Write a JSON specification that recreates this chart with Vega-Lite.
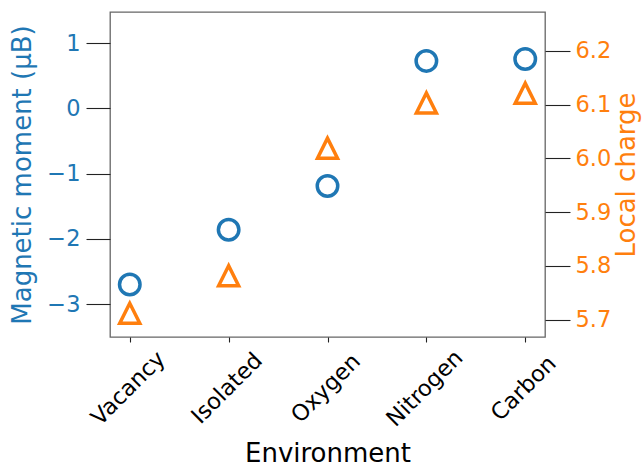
{
  "$schema": "https://vega.github.io/schema/vega-lite/v6.json",
  "width": 435,
  "height": 325,
  "autosize": {"type": "none"},
  "padding": {"left": 110, "top": 12, "right": 97, "bottom": 127},
  "background": "white",
  "config": {
    "font": "DejaVu Sans",
    "view": {"stroke": "#666666", "strokeWidth": 1.3},
    "axis": {"domain": false, "grid": false, "tickColor": "#222222", "tickWidth": 1.1, "labelFont": "DejaVu Sans", "titleFont": "DejaVu Sans", "labelFontSize": 22.5, "titleFontSize": 26, "titleFontWeight": "normal"}
  },
  "data": {
    "values": [
      {"env": "Vacancy", "mm": -2.70, "charge": 5.712},
      {"env": "Isolated", "mm": -1.86, "charge": 5.782},
      {"env": "Oxygen", "mm": -1.19, "charge": 6.019},
      {"env": "Nitrogen", "mm": 0.73, "charge": 6.103},
      {"env": "Carbon", "mm": 0.76, "charge": 6.121}
    ]
  },
  "encoding": {
    "x": {
      "field": "env",
      "type": "nominal",
      "sort": null,
      "scale": {"type": "point", "padding": 0.2},
      "axis": {
        "title": "Environment",
        "labelAngle": -45,
        "labelAlign": "center",
        "labelBaseline": "middle",
        "labelPadding": 46,
        "labelOffset": -2,
        "tickSize": 5,
        "labelColor": "#000000",
        "titleColor": "#000000",
        "titleBaseline": "alphabetic",
        "titleY": 124,
        "titleX": 217.5
      }
    }
  },
  "layer": [
    {
      "mark": {"type": "point", "shape": "circle", "filled": false, "size": 420, "strokeWidth": 3.5, "color": "#1f77b4", "opacity": 1},
      "encoding": {
        "y": {
          "field": "mm",
          "type": "quantitative",
          "scale": {"domain": [-3.506, 1.48], "nice": false, "zero": false},
          "axis": {
            "orient": "left",
            "title": "Magnetic moment (μB)",
            "values": [-3, -2, -1, 0, 1],
            "format": "d",
            "tickSize": 24,
            "labelPadding": 6,
            "labelColor": "#1f77b4",
            "titleColor": "#1f77b4",
            "titleAngle": -90,
            "titleBaseline": "alphabetic",
            "titleX": -80,
            "titleY": 162.5
          }
        }
      }
    },
    {
      "mark": {"type": "point", "shape": "M0,-1L-1,1L1,1Z", "filled": false, "size": 400, "strokeWidth": 3.5, "strokeJoin": "miter", "color": "#ff7f0e", "opacity": 1},
      "encoding": {
        "y": {
          "field": "charge",
          "type": "quantitative",
          "scale": {"domain": [5.668, 6.272], "nice": false, "zero": false},
          "axis": {
            "orient": "right",
            "title": "Local charge",
            "values": [5.7, 5.8, 5.9, 6.0, 6.1, 6.2],
            "format": ".1f",
            "tickSize": 25,
            "labelPadding": 5,
            "labelColor": "#ff7f0e",
            "titleColor": "#ff7f0e",
            "titleAngle": -90,
            "titleBaseline": "alphabetic",
            "titleX": 89,
            "titleY": 162.5
          }
        }
      }
    }
  ],
  "resolve": {"scale": {"y": "independent"}}
}
